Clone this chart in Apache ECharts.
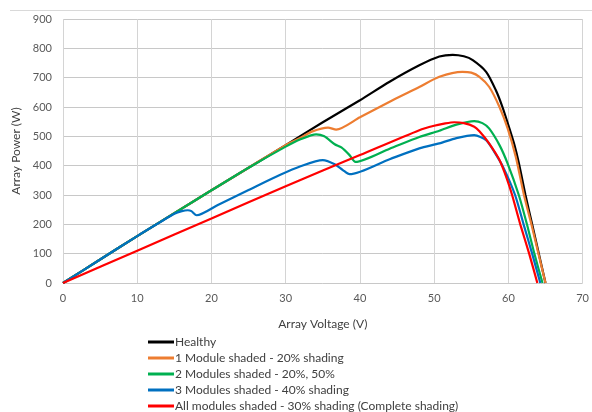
<!DOCTYPE html>
<html>
<head>
<meta charset="utf-8">
<script src="https://cdn.jsdelivr.net/npm/echarts@6/dist/echarts.min.js"></script>
<style>
    html, body {margin: 0; padding: 0; background: #fff;}
    #chart {width: 592px; height: 412px;}
</style>
</head>
<body>
<div id="chart"></div>
<script>
    // [voltage, power] pairs
    const healthy = [[0,0],[5,80],[10,160],[15,238],[20,316],[25,393],[30,470],[35,548],[40,623],[44,686],[48,742],[50.7,772],[52.5,778],[54,773],[55.2,760],[57,720],[58.3,658],[59.2,600],[60.1,530],[60.8,472],[61.4,410],[62.3,300],[63.2,200],[64.1,100],[65,0]]
    const oneModule = [[0,0],[5,80],[10,160],[15,238],[20,316],[25,393],[30,470],[32,495],[33.6,517],[35.7,530],[36.8,523],[40,565],[44.4,623],[48,668],[50.7,703],[53.8,720],[55,717],[56.1,703],[57.4,669],[58.8,600],[59.9,527],[61,430],[62.1,300],[63.1,200],[64.05,100],[65,0]]
    const twoModules = [[0,0],[5,80],[10,160],[15,238],[20,316],[25,393],[30,465],[32,490],[34.1,507],[35.2,500],[36.6,473],[37.5,462],[38.6,436],[39.4,413],[44,458],[48,498],[50.7,519],[53,540],[55.4,552],[56.5,545],[57.4,527],[58.8,470],[59.9,407],[61.4,300],[62.5,200],[63.5,100],[64.6,0]]
    const threeModules = [[0,0],[5,80],[10,160],[13,206],[15,236],[16,245],[16.8,248],[17.3,245],[18,231],[21,268],[25,317],[29.2,368],[32,398],[35,419],[36.6,405],[37.7,385],[38.6,371],[44,422],[48,459],[50.7,476],[53,494],[55.4,504],[57,487],[58.1,447],[59.3,395],[60.9,300],[62.05,200],[63.2,100],[64.3,0]]
    const allModules = [[0,0],[10,110],[20,220],[30,330],[40,436],[48,521],[50,536],[51.5,544],[52.7,548],[54,545],[55.4,533],[56.1,517],[57.4,476],[58.8,419],[59.8,355],[60.5,300],[61.6,200],[62.8,100],[63.9,0]]

    const seriesNames = [
        'Healthy',
        '1 Module shaded - 20% shading',
        '2 Modules shaded - 20%, 50%',
        '3 Modules shaded - 40% shading',
        'All modules shaded - 30% shading (Complete shading)'
    ]
    const seriesData = [healthy, oneModule, twoModules, threeModules, allModules]
    const colors = ['#000000', '#ED7D31', '#00B050', '#0070C0', '#FF0000']

    const font = 'Lato'
    const chart = echarts.init(document.getElementById('chart'))
    chart.setOption({
        animation: false,
        color: colors,
        textStyle: {fontFamily: font},
        grid: {left: 63, right: 8, top: 19, bottom: 129},
        graphic: [{
            type: 'line',
            shape: {x1: 10, y1: 10.5, x2: 592, y2: 10.5},
            style: {stroke: '#d9d9d9', lineWidth: 1}
        }],
        legend: {
            orient: 'vertical',
            left: 148,
            top: 335,
            height: 100,
            icon: 'rect',
            itemWidth: 26,
            itemHeight: 3,
            itemGap: 2,
            padding: 0,
            textStyle: {fontFamily: font, fontSize: 12, color: '#404040', lineHeight: 14, padding: [0, 0, 0, -4]},
            data: seriesNames
        },
        xAxis: {
            type: 'value',
            min: 0,
            max: 70,
            interval: 10,
            name: 'Array Voltage (V)',
            nameLocation: 'middle',
            nameGap: 35,
            nameTextStyle: {fontFamily: font, fontSize: 12, color: '#404040'},
            axisLine: {show: false},
            axisTick: {show: false},
            axisLabel: {color: '#595959', fontSize: 11, margin: 10},
            splitLine: {lineStyle: {color: '#d4d4d4', width: 1}}
        },
        yAxis: {
            type: 'value',
            min: 0,
            max: 900,
            interval: 100,
            name: 'Array Power (W)',
            nameLocation: 'middle',
            nameGap: 36,
            nameTextStyle: {fontFamily: font, fontSize: 12, color: '#404040'},
            axisLine: {show: false},
            axisTick: {show: false},
            axisLabel: {color: '#595959', fontSize: 11, margin: 11},
            splitLine: {lineStyle: {color: '#c8c8c8', width: 1}}
        },
        series: seriesData.map((d, i) => ({
            name: seriesNames[i],
            type: 'line',
            data: d,
            smooth: 0.25,
            showSymbol: false,
            lineStyle: {width: 2.2, color: colors[i]}
        }))
    })
</script>
</body>
</html>
